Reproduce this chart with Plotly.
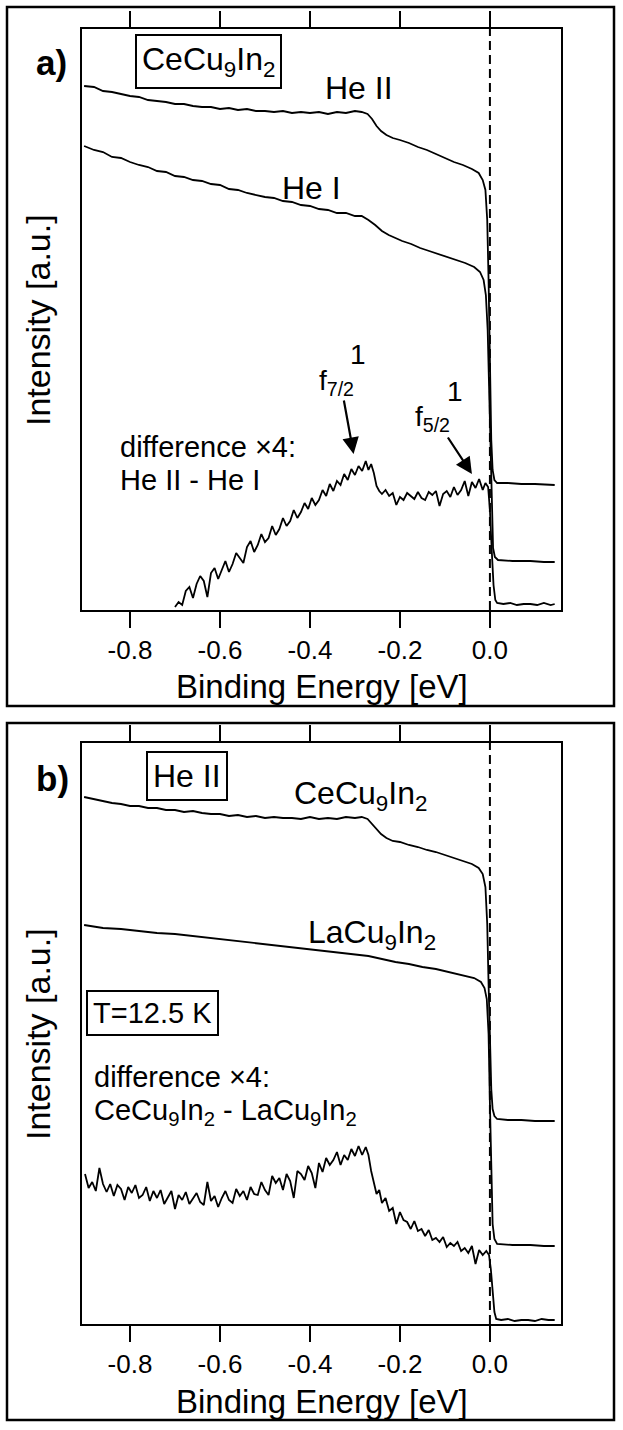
import plotly.graph_objects as go

W, H = 623, 1430
FONT = "Liberation Sans, Arial, Helvetica, sans-serif"

# ---------------- data (binding energy in eV, intensity in a.u.) ----------------
# Panel a: CeCu9In2, He II and He I spectra
a_heII_e = [-0.902, -0.880, -0.860, -0.840, -0.820, -0.800, -0.780, -0.760, -0.740, -0.720,
            -0.700, -0.680, -0.660, -0.640, -0.620, -0.600, -0.580, -0.560, -0.540, -0.520,
            -0.500, -0.480, -0.460, -0.440, -0.420, -0.400, -0.380, -0.360, -0.340, -0.320,
            -0.300, -0.285, -0.272, -0.262, -0.252, -0.242, -0.230, -0.216, -0.200, -0.180,
            -0.160, -0.140, -0.120, -0.100, -0.080, -0.060, -0.040, -0.025, -0.016, -0.010,
            -0.006, -0.003, 0.000, 0.003, 0.006, 0.010, 0.016, 0.040, 0.070, 0.100, 0.144]
a_heII_y = [52.4, 52.3, 51.9, 51.8, 51.6, 51.4, 51.3, 51.0, 50.9, 50.8,
            50.6, 50.6, 50.4, 50.3, 50.3, 50.1, 50.2, 50.0, 50.1, 49.9,
            49.9, 49.8, 49.9, 49.7, 49.8, 49.7, 49.8, 49.6, 49.8, 49.7,
            49.9, 49.8, 49.6, 49.1, 48.4, 47.9, 47.5, 47.2, 47.0, 46.7,
            46.3, 46.0, 45.6, 45.2, 44.8, 44.5, 44.1, 43.7, 43.0, 42.0,
            39.0, 33.0, 24.0, 17.0, 14.0, 13.0, 12.7, 12.7, 12.6, 12.6, 12.5]

a_heI_e = [-0.902, -0.880, -0.860, -0.840, -0.820, -0.800, -0.780, -0.760, -0.740, -0.720,
           -0.700, -0.680, -0.660, -0.640, -0.620, -0.600, -0.580, -0.560, -0.540, -0.520,
           -0.500, -0.480, -0.460, -0.440, -0.420, -0.400, -0.380, -0.360, -0.340, -0.320,
           -0.300, -0.285, -0.270, -0.255, -0.240, -0.225, -0.210, -0.195, -0.175, -0.155,
           -0.135, -0.115, -0.095, -0.075, -0.055, -0.035, -0.022, -0.014, -0.009, -0.005,
           -0.002, 0.001, 0.004, 0.007, 0.011, 0.018, 0.050, 0.090, 0.120, 0.144]
a_heI_y = [46.4, 46.0, 45.8, 45.3, 45.2, 44.8, 44.5, 44.3, 43.9, 43.8,
           43.4, 43.3, 43.0, 42.9, 42.6, 42.5, 42.1, 42.0, 41.7, 41.5,
           41.3, 41.2, 40.9, 40.8, 40.5, 40.4, 40.1, 40.0, 39.7, 39.7,
           39.4, 39.4, 39.0, 38.5, 37.9, 37.5, 37.2, 36.9, 36.6, 36.2,
           35.9, 35.6, 35.3, 35.0, 34.7, 34.3, 33.8, 33.0, 31.5, 28.0,
           22.0, 15.0, 9.0, 6.2, 5.3, 5.0, 4.9, 4.9, 4.8, 4.8]

a_diff_e = [-0.700, -0.692, -0.684, -0.676, -0.668, -0.660, -0.652, -0.644, -0.636, -0.628,
            -0.620, -0.612, -0.604, -0.596, -0.588, -0.580, -0.572, -0.564, -0.556, -0.548,
            -0.540, -0.532, -0.524, -0.516, -0.508, -0.500, -0.492, -0.484, -0.476, -0.468,
            -0.460, -0.452, -0.444, -0.436, -0.428, -0.420, -0.412, -0.404, -0.396, -0.388,
            -0.380, -0.372, -0.364, -0.356, -0.348, -0.340, -0.332, -0.324, -0.316, -0.308,
            -0.300, -0.292, -0.284, -0.276, -0.270, -0.264, -0.258, -0.252, -0.246, -0.240,
            -0.232, -0.224, -0.216, -0.208, -0.200, -0.192, -0.184, -0.176, -0.168, -0.160,
            -0.152, -0.144, -0.136, -0.128, -0.120, -0.112, -0.104, -0.096, -0.088, -0.080,
            -0.072, -0.064, -0.056, -0.048, -0.040, -0.032, -0.024, -0.016, -0.010, -0.004,
            0.000, 0.004, 0.008, 0.012, 0.016, 0.030, 0.045, 0.060, 0.075, 0.090,
            0.105, 0.120, 0.135, 0.144]
a_diff_y = [0.3, 0.8, 0.5, 1.9, 2.3, 1.2, 2.6, 3.4, 2.9, 1.3,
            3.7, 4.2, 3.1, 4.0, 4.9, 3.8, 4.6, 5.7, 5.2, 4.7,
            6.3, 6.9, 5.8, 6.5, 7.6, 6.8, 7.2, 8.4, 7.5, 8.1,
            9.2, 8.4, 8.9, 10.0, 9.2, 9.8, 10.7, 10.1, 11.2, 10.5,
            11.0, 12.0, 11.4, 12.6, 11.9, 12.9, 12.5, 13.6, 13.0, 14.1,
            13.5, 14.4, 13.9, 14.9, 14.0, 14.6, 13.7, 12.4, 11.9, 11.6,
            12.0, 11.4, 11.7, 10.5, 11.3, 11.0, 11.7, 11.4, 11.1, 11.8,
            11.2, 11.0, 11.8, 11.5, 11.9, 10.4, 11.6, 11.9, 11.3, 12.3,
            11.5, 12.0, 12.9, 11.4, 12.8, 12.2, 13.1, 12.0, 12.7, 12.3,
            10.0, 6.0, 2.5, 1.0, 0.7, 0.6, 0.7, 0.5, 0.6, 0.6,
            0.5, 0.7, 0.5, 0.6]

# Panel b: He II spectra of CeCu9In2 and LaCu9In2, and their difference
b_ce_e = [-0.902, -0.880, -0.860, -0.840, -0.820, -0.800, -0.780, -0.760, -0.740, -0.720,
          -0.700, -0.680, -0.660, -0.640, -0.620, -0.600, -0.580, -0.560, -0.540, -0.520,
          -0.500, -0.480, -0.460, -0.440, -0.420, -0.400, -0.380, -0.360, -0.340, -0.320,
          -0.300, -0.285, -0.272, -0.262, -0.252, -0.242, -0.230, -0.216, -0.200, -0.180,
          -0.160, -0.140, -0.120, -0.100, -0.080, -0.060, -0.040, -0.025, -0.016, -0.010,
          -0.006, -0.003, 0.000, 0.003, 0.006, 0.010, 0.016, 0.040, 0.070, 0.100, 0.144]
b_ce_y = [52.7, 52.5, 52.3, 52.1, 52.0, 51.8, 51.8, 51.6, 51.6, 51.4,
          51.4, 51.2, 51.3, 51.1, 51.0, 51.0, 50.8, 50.9, 50.7, 50.8,
          50.6, 50.7, 50.6, 50.6, 50.5, 50.7, 50.5, 50.6, 50.5, 50.7,
          50.6, 50.7, 50.5, 50.0, 49.4, 49.0, 48.6, 48.3, 48.2, 47.9,
          47.7, 47.4, 47.2, 46.9, 46.6, 46.3, 46.0, 45.6, 45.0, 43.7,
          40.0, 34.0, 28.0, 23.5, 21.5, 20.8, 20.5, 20.4, 20.4, 20.3, 20.3]

b_la_e = [-0.902, -0.860, -0.820, -0.780, -0.740, -0.700, -0.660, -0.620, -0.580, -0.540,
          -0.500, -0.460, -0.420, -0.380, -0.340, -0.300, -0.270, -0.240, -0.210, -0.180,
          -0.150, -0.120, -0.090, -0.060, -0.035, -0.020, -0.012, -0.007, -0.003, 0.000,
          0.003, 0.006, 0.010, 0.016, 0.050, 0.090, 0.120, 0.144]
b_la_y = [39.9, 39.6, 39.5, 39.3, 39.1, 39.0, 38.8, 38.6, 38.4, 38.2,
          38.0, 37.8, 37.6, 37.4, 37.2, 37.0, 36.8, 36.5, 36.2, 36.0,
          35.7, 35.5, 35.2, 34.9, 34.6, 34.2, 33.6, 32.5, 29.0, 22.0,
          15.0, 10.0, 8.5, 8.0, 7.9, 7.9, 7.8, 7.8]

b_diff_e = [-0.900, -0.892, -0.884, -0.876, -0.868, -0.860, -0.852, -0.844, -0.836, -0.828,
            -0.820, -0.812, -0.804, -0.796, -0.788, -0.780, -0.772, -0.764, -0.756, -0.748,
            -0.740, -0.732, -0.724, -0.716, -0.708, -0.700, -0.692, -0.684, -0.676, -0.668,
            -0.660, -0.652, -0.644, -0.636, -0.628, -0.620, -0.612, -0.604, -0.596, -0.588,
            -0.580, -0.572, -0.564, -0.556, -0.548, -0.540, -0.532, -0.524, -0.516, -0.508,
            -0.500, -0.492, -0.484, -0.476, -0.468, -0.460, -0.452, -0.444, -0.436, -0.428,
            -0.420, -0.412, -0.404, -0.396, -0.388, -0.380, -0.372, -0.364, -0.356, -0.348,
            -0.340, -0.332, -0.324, -0.316, -0.308, -0.300, -0.292, -0.284, -0.276, -0.270,
            -0.264, -0.258, -0.252, -0.246, -0.240, -0.232, -0.224, -0.216, -0.208, -0.200,
            -0.192, -0.184, -0.176, -0.168, -0.160, -0.152, -0.144, -0.136, -0.128, -0.120,
            -0.112, -0.104, -0.096, -0.088, -0.080, -0.072, -0.064, -0.056, -0.048, -0.040,
            -0.032, -0.024, -0.016, -0.008, -0.002, 0.002, 0.006, 0.010, 0.014, 0.025,
            0.040, 0.055, 0.070, 0.085, 0.100, 0.115, 0.130, 0.144]
b_diff_y = [15.0, 13.6, 14.2, 13.3, 15.6, 14.0, 13.2, 14.0, 12.8, 13.9,
            13.5, 12.4, 13.7, 13.1, 13.9, 12.6, 12.9, 13.7, 12.3, 13.3,
            12.6, 13.4, 12.0, 12.6, 13.3, 11.5, 12.9, 12.4, 13.2, 12.0,
            12.5, 13.1, 12.2, 11.9, 14.2, 12.3, 12.8, 11.7, 12.6, 13.3,
            12.4, 12.1, 13.5, 12.8, 13.3, 12.4, 13.7, 13.0, 12.9, 14.2,
            13.4, 12.9, 14.8, 14.1, 14.6, 13.4, 15.0, 14.3, 12.6, 15.3,
            15.0, 14.4, 15.8, 15.1, 13.6, 16.1, 15.2, 16.6, 15.9, 16.4,
            17.2, 15.9, 16.9, 16.4, 17.5, 16.8, 17.8, 16.9, 17.7, 16.9,
            15.3, 14.1, 13.0, 13.4, 12.1, 12.6, 11.3, 11.6, 10.0, 11.2,
            10.4, 10.2, 9.5, 10.3, 9.3, 9.5, 8.8, 9.4, 8.4, 8.6,
            8.2, 8.7, 7.7, 8.1, 7.8, 8.2, 7.3, 7.6, 7.1, 7.8,
            6.0, 7.4, 6.9, 7.3, 6.9, 5.5, 2.8, 1.2, 0.5, 0.4,
            0.5, 0.3, 0.4, 0.4, 0.3, 0.5, 0.4, 0.4]

tick_vals = [-0.8, -0.6, -0.4, -0.2, 0.0]
tick_text = ["-0.8", "-0.6", "-0.4", "-0.2", "0.0"]

X_RANGE = [-0.9067, 0.158]
Y_RANGE = [0, 58.1]


def PX(x):
    return x / W


def PY(y):
    return 1 - y / H


fig = go.Figure()
line = dict(color="black", width=1.8)
for e, y in [(a_heII_e, a_heII_y), (a_heI_e, a_heI_y), (a_diff_e, a_diff_y)]:
    fig.add_trace(go.Scatter(x=e, y=y, mode="lines", line=line, xaxis="x", yaxis="y",
                             hoverinfo="skip"))
for e, y in [(b_ce_e, b_ce_y), (b_la_e, b_la_y), (b_diff_e, b_diff_y)]:
    fig.add_trace(go.Scatter(x=e, y=y, mode="lines", line=line, xaxis="x2", yaxis="y2",
                             hoverinfo="skip"))

xcommon = dict(range=X_RANGE, tickvals=tick_vals, ticktext=tick_text, ticks="outside",
               ticklen=16, tickwidth=2, tickcolor="black", showline=True, linewidth=2,
               linecolor="black", mirror="ticks", showgrid=False, zeroline=False,
               tickfont=dict(family=FONT, size=26, color="black"), domain=[PX(82), PX(561)])
ycommon = dict(range=Y_RANGE, showticklabels=False, ticks="", showline=True, linewidth=2,
               linecolor="black", mirror=True, showgrid=False, zeroline=False)

fig.update_layout(
    width=W, height=H, margin=dict(l=0, r=0, t=0, b=0),
    paper_bgcolor="white", plot_bgcolor="white", showlegend=False,
    xaxis=dict(**xcommon, anchor="y"),
    yaxis=dict(**ycommon, anchor="x", domain=[PY(610), PY(29)]),
    xaxis2=dict(**xcommon, anchor="y2"),
    yaxis2=dict(**ycommon, anchor="x2", domain=[PY(1324), PY(743)]),
)

shapes = []
# outer frames
for top, bot in [(7, 706), (723, 1420)]:
    shapes.append(dict(type="rect", xref="paper", yref="paper", x0=PX(7), x1=PX(614),
                       y0=PY(bot), y1=PY(top), line=dict(color="black", width=2.5)))
# Fermi level dashed lines
for xr, yr in [("x", "y domain"), ("x2", "y2 domain")]:
    shapes.append(dict(type="line", xref=xr, yref=yr, x0=0, x1=0, y0=0, y1=1,
                       line=dict(color="black", width=2, dash="9px,5px")))
fig.update_layout(shapes=shapes)

ann = []


def text(x, y, s, size, xanchor="center", yanchor="middle", bold=False, box=False,
         angle=0):
    d = dict(xref="paper", yref="paper", x=PX(x), y=PY(y), text=(f"<b>{s}</b>" if bold else s),
             showarrow=False, xanchor=xanchor, yanchor=yanchor, textangle=angle,
             font=dict(family=FONT, size=size, color="black"))
    if box:
        d.update(bordercolor="black", borderwidth=2, borderpad=5, bgcolor="white")
    ann.append(d)


# panel a texts
text(51, 63, "a)", 35, bold=True)
text(208, 62, "CeCu<sub>9</sub>In<sub>2</sub>", 32, box=True)
text(359, 88, "He II", 32)
text(311, 188, "He I", 32)
text(118, 447, "difference ×4:", 29, xanchor="left")
text(118, 480, "He II - He I", 29, xanchor="left")
text(317, 382, "f<sub>7/2</sub>", 28, xanchor="left")
text(358, 355, "1", 28)
text(413, 418, "f<sub>5/2</sub>", 28, xanchor="left")
text(455, 392, "1", 28)
text(38, 320, "Intensity [a.u.]", 34, angle=-90)
text(322, 686, "Binding Energy [eV]", 33)

# panel b texts
text(52, 778, "b)", 35, bold=True)
text(187, 776, "He II", 32, box=True)
text(360, 795, "CeCu<sub>9</sub>In<sub>2</sub>", 32)
text(372, 934, "LaCu<sub>9</sub>In<sub>2</sub>", 32)
text(152, 1013, "T=12.5 K", 29, box=True)
text(92, 1077, "difference ×4:", 29, xanchor="left")
text(92, 1112, "CeCu<sub>9</sub>In<sub>2</sub> - LaCu<sub>9</sub>In<sub>2</sub>", 29, xanchor="left")
text(38, 1034, "Intensity [a.u.]", 34, angle=-90)
text(322, 1401, "Binding Energy [eV]", 33)

# arrows pointing to the f-peaks (tips in data coordinates)
for xv, yv, ax, ay in [(-0.303, 15.6, -10, -55), (-0.040, 13.6, -25, -38)]:
    ann.append(dict(xref="x", yref="y", x=xv, y=yv, ax=ax, ay=ay, text="", showarrow=True,
                    arrowhead=2, arrowsize=1.5, arrowwidth=2.2, arrowcolor="black",
                    standoff=0))

fig.update_layout(annotations=ann)
fig.write_html("out.html")
